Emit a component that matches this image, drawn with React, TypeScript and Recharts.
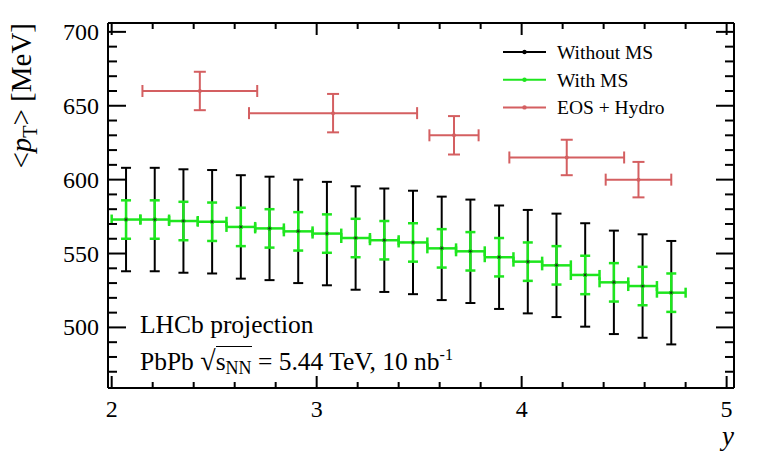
import React from 'react';
import { ScatterChart, Scatter, XAxis, YAxis, ErrorBar, Legend, Label } from 'recharts';

const FONT = '"Liberation Serif", "Times New Roman", serif';

// rapidity bins (centres), 0.14 wide
const binCentres = [2.07, 2.21, 2.35, 2.49, 2.63, 2.77, 2.91, 3.05, 3.19, 3.33, 3.47, 3.61, 3.75, 3.89, 4.03, 4.17, 4.31, 4.45, 4.59, 4.73];
const binHalfWidth = [0.07, 0.07, 0.07, 0.07, 0.07, 0.07, 0.07, 0.07, 0.07, 0.07, 0.07, 0.07, 0.07, 0.07, 0.07, 0.07, 0.07, 0.07, 0.07, 0.07];
const meanPt = [573, 573, 572, 571.5, 568, 567, 565, 563.5, 560.5, 559, 557.5, 553.5, 551.5, 547.5, 544.5, 542, 535.5, 530.5, 528, 523.5];
const errWithoutMS = [35, 35, 35, 35, 35, 35, 35, 35, 35, 35, 35, 35, 35, 35, 35, 35, 35, 35, 35, 35];
const errWithMS = [13, 13, 13, 13, 13, 13, 13, 13, 13, 13, 13, 13, 13, 13, 13, 13, 13, 13, 13, 13];

// EOS + hydro prediction
const hydroY = [2.43, 3.08, 3.67, 4.22, 4.57];
const hydroYErr = [0.28, 0.41, 0.12, 0.28, 0.16];
const hydroPt = [660, 645, 630, 615, 600];
const hydroPtErr = [13, 13, 13, 12, 12];

const xTicks = [2, 2.2, 2.4, 2.6, 2.8, 3, 3.2, 3.4, 3.6, 3.8, 4, 4.2, 4.4, 4.6, 4.8, 5];
const yTicks = [470, 480, 490, 500, 510, 520, 530, 540, 550, 560, 570, 580, 590, 600, 610, 620, 630, 640, 650, 660, 670, 680, 690, 700];
const X_DOMAIN = [1.982, 5.036];
const Y_DOMAIN = [459, 706];

const legendNames = ['Without MS', 'With MS', 'EOS + Hydro'];

const BLACK = '#000000';
const GREEN = '#1ee61e';
const RED = '#d45f61';

const lhcbRows = binCentres.map((y, i) => ({
  y,
  pt: meanPt[i],
  ex: binHalfWidth[i],
  eNoMS: errWithoutMS[i],
  eMS: errWithMS[i],
}));

const hydroRows = hydroY.map((y, i) => ({
  y,
  pt: hydroPt[i],
  ex: hydroYErr[i],
  ept: hydroPtErr[i],
}));

const txt = { fontFamily: FONT };

function FrameTick(props: any) {
  const { x, y, payload, side } = props;
  const v = payload.value as number;
  const isX = side === 'bottom' || side === 'top';
  const major = isX ? Math.abs(v - Math.round(v)) < 1e-6 : v % 50 === 0;
  const len = isX ? (major ? 12 : 6) : major ? 18 : 9;
  let x2 = x;
  let y2 = y;
  if (side === 'bottom') y2 = y - len;
  if (side === 'top') y2 = y + len;
  if (side === 'left') x2 = x + len;
  if (side === 'right') x2 = x - len;
  return (
    <g>
      <path d={`M${x},${y}L${x2},${y2}`} stroke="#000" strokeWidth={2} fill="none" />
      {major && side === 'bottom' && (
        <text x={x} y={y + 29} textAnchor="middle" fontSize={24} style={txt} fill="#000">
          {Math.round(v)}
        </text>
      )}
      {major && side === 'left' && (
        <text x={x - 9} y={y + 8} textAnchor="end" fontSize={24} style={txt} fill="#000">
          {v}
        </text>
      )}
    </g>
  );
}

function LegendBox({ payload }: any) {
  const items = legendNames
    .map((n) => (payload || []).find((p: any) => p.value === n))
    .filter(Boolean);
  return (
    <svg width={240} height={90}>
      {items.map((p: any, i: number) => {
        const cy = 14 + i * 27.7;
        return (
          <g key={p.value}>
            <line x1={3} x2={46} y1={cy} y2={cy} stroke={p.color} strokeWidth={2} />
            <circle cx={24.5} cy={cy} r={2.2} fill={p.color} />
            <text x={57} y={cy + 7} fontSize={19.5} style={txt} fill="#000">
              {p.value}
            </text>
          </g>
        );
      })}
    </svg>
  );
}

const dot = (color: string, r: number) => (p: any) => <circle cx={p.cx} cy={p.cy} r={r} fill={color} />;
const nothing = () => <g />;

export default function App() {
  return (
    <div style={{ position: 'absolute', left: 0, top: 0, width: 773, height: 462, background: '#fff', fontFamily: FONT }}>
      <ScatterChart width={773} height={462} margin={{ top: 22, right: 38, bottom: 34, left: 0 }}>
        {/* frame axes: ticks + labels only */}
        <XAxis
          xAxisId="b"
          type="number"
          dataKey="y"
          domain={X_DOMAIN}
          allowDataOverflow
          ticks={xTicks}
          interval={0}
          tickSize={0}
          tickMargin={0}
          tickLine={false}
          axisLine={{ stroke: '#000', strokeWidth: 2 }}
          height={40}
          tick={(p: any) => <FrameTick {...p} side="bottom" />}
        >
          <Label
            content={({ viewBox }: any) => (
              <text
                x={viewBox.x + viewBox.width}
                y={viewBox.y + 57}
                textAnchor="end"
                fontSize={27}
                fontStyle="italic"
                style={txt}
                fill="#000"
              >
                y
              </text>
            )}
          />
        </XAxis>
        <XAxis
          xAxisId="t"
          orientation="top"
          type="number"
          dataKey="y"
          domain={X_DOMAIN}
          allowDataOverflow
          ticks={xTicks}
          interval={0}
          tickSize={0}
          tickMargin={0}
          tickLine={false}
          axisLine={{ stroke: '#000', strokeWidth: 2 }}
          height={1}
          tick={(p: any) => <FrameTick {...p} side="top" />}
        />
        {/* hidden axis carrying the data series and their error bars */}
        <XAxis xAxisId="zx" type="number" dataKey="y" domain={X_DOMAIN} allowDataOverflow hide />
        <YAxis
          yAxisId="l"
          type="number"
          dataKey="pt"
          domain={Y_DOMAIN}
          allowDataOverflow
          ticks={yTicks}
          interval={0}
          tickSize={0}
          tickMargin={0}
          tickLine={false}
          axisLine={{ stroke: '#000', strokeWidth: 2 }}
          width={108}
          tick={(p: any) => <FrameTick {...p} side="left" />}
        >
          <Label
            content={({ viewBox }: any) => (
              <text
                transform={`translate(${viewBox.x + 31}, ${viewBox.y}) rotate(-90)`}
                textAnchor="end"
                fontSize={29}
                style={txt}
                fill="#000"
              >
                <tspan>{'<'}</tspan>
                <tspan fontStyle="italic">p</tspan>
                <tspan fontSize={20} dy={6}>T</tspan>
                <tspan dy={-6}>{'> [MeV]'}</tspan>
              </text>
            )}
          />
        </YAxis>
        <YAxis
          yAxisId="r"
          orientation="right"
          type="number"
          dataKey="pt"
          domain={Y_DOMAIN}
          allowDataOverflow
          ticks={yTicks}
          interval={0}
          tickSize={0}
          tickMargin={0}
          tickLine={false}
          axisLine={{ stroke: '#000', strokeWidth: 2 }}
          width={1}
          tick={(p: any) => <FrameTick {...p} side="right" />}
        />
        <YAxis yAxisId="zy" type="number" dataKey="pt" domain={Y_DOMAIN} allowDataOverflow hide />

        {/* bare series that keep the frame axes populated */}
        <Scatter xAxisId="b" yAxisId="l" data={lhcbRows} dataKey="pt" legendType="none" shape={nothing} isAnimationActive={false} />
        <Scatter xAxisId="t" yAxisId="r" data={lhcbRows} dataKey="pt" legendType="none" shape={nothing} isAnimationActive={false} />

        <Scatter
          name="Without MS"
          xAxisId="zx"
          yAxisId="zy"
          data={lhcbRows}
          dataKey="pt"
          fill={BLACK}
          shape={dot(BLACK, 2)}
          isAnimationActive={false}
        >
          <ErrorBar dataKey="eNoMS" direction="y" width={5} stroke={BLACK} strokeWidth={2} isAnimationActive={false} />
        </Scatter>

        <Scatter
          name="With MS"
          xAxisId="zx"
          yAxisId="zy"
          data={lhcbRows}
          dataKey="pt"
          fill={GREEN}
          shape={dot(GREEN, 2.2)}
          isAnimationActive={false}
        >
          <ErrorBar dataKey="ex" direction="x" width={5} stroke={GREEN} strokeWidth={2.5} isAnimationActive={false} />
          <ErrorBar dataKey="eMS" direction="y" width={5} stroke={GREEN} strokeWidth={2.5} isAnimationActive={false} />
        </Scatter>

        {/* dark centre markers drawn over the green crosses */}
        <Scatter
          xAxisId="zx"
          yAxisId="zy"
          data={lhcbRows}
          dataKey="pt"
          legendType="none"
          fill={BLACK}
          shape={dot('#114411', 1.4)}
          isAnimationActive={false}
        />

        <Scatter
          name="EOS + Hydro"
          xAxisId="zx"
          yAxisId="zy"
          data={hydroRows}
          dataKey="pt"
          fill={RED}
          shape={dot(RED, 2)}
          isAnimationActive={false}
        >
          <ErrorBar dataKey="ex" direction="x" width={6} stroke={RED} strokeWidth={2} isAnimationActive={false} />
          <ErrorBar dataKey="ept" direction="y" width={6} stroke={RED} strokeWidth={2} isAnimationActive={false} />
        </Scatter>

        <Legend
          layout="vertical"
          align="center"
          verticalAlign="middle"
          content={<LegendBox />}
          wrapperStyle={{ left: 500, top: 38, width: 240, height: 90 }}
        />
      </ScatterChart>

      <div
        style={{
          position: 'absolute',
          left: 140,
          top: 312,
          fontSize: 25.5,
          lineHeight: '25px',
          whiteSpace: 'nowrap',
          color: '#000',
        }}
      >
        LHCb projection
      </div>
      <div
        style={{
          position: 'absolute',
          left: 140,
          top: 348,
          fontSize: 25.5,
          lineHeight: '25px',
          whiteSpace: 'nowrap',
          color: '#000',
        }}
      >
        PbPb{' '}
        <span style={{ fontWeight: 'bold', fontSize: 28 }}>√</span>
        <span style={{ borderTop: '1.5px solid #000' }}>
          s<sub style={{ fontSize: 18, verticalAlign: '-4px', lineHeight: 0 }}>NN</sub>
        </span>
        {' = 5.44 TeV, 10 nb'}
        <sup style={{ fontSize: 16, verticalAlign: '10px', lineHeight: 0 }}>-1</sup>
      </div>
    </div>
  );
}
